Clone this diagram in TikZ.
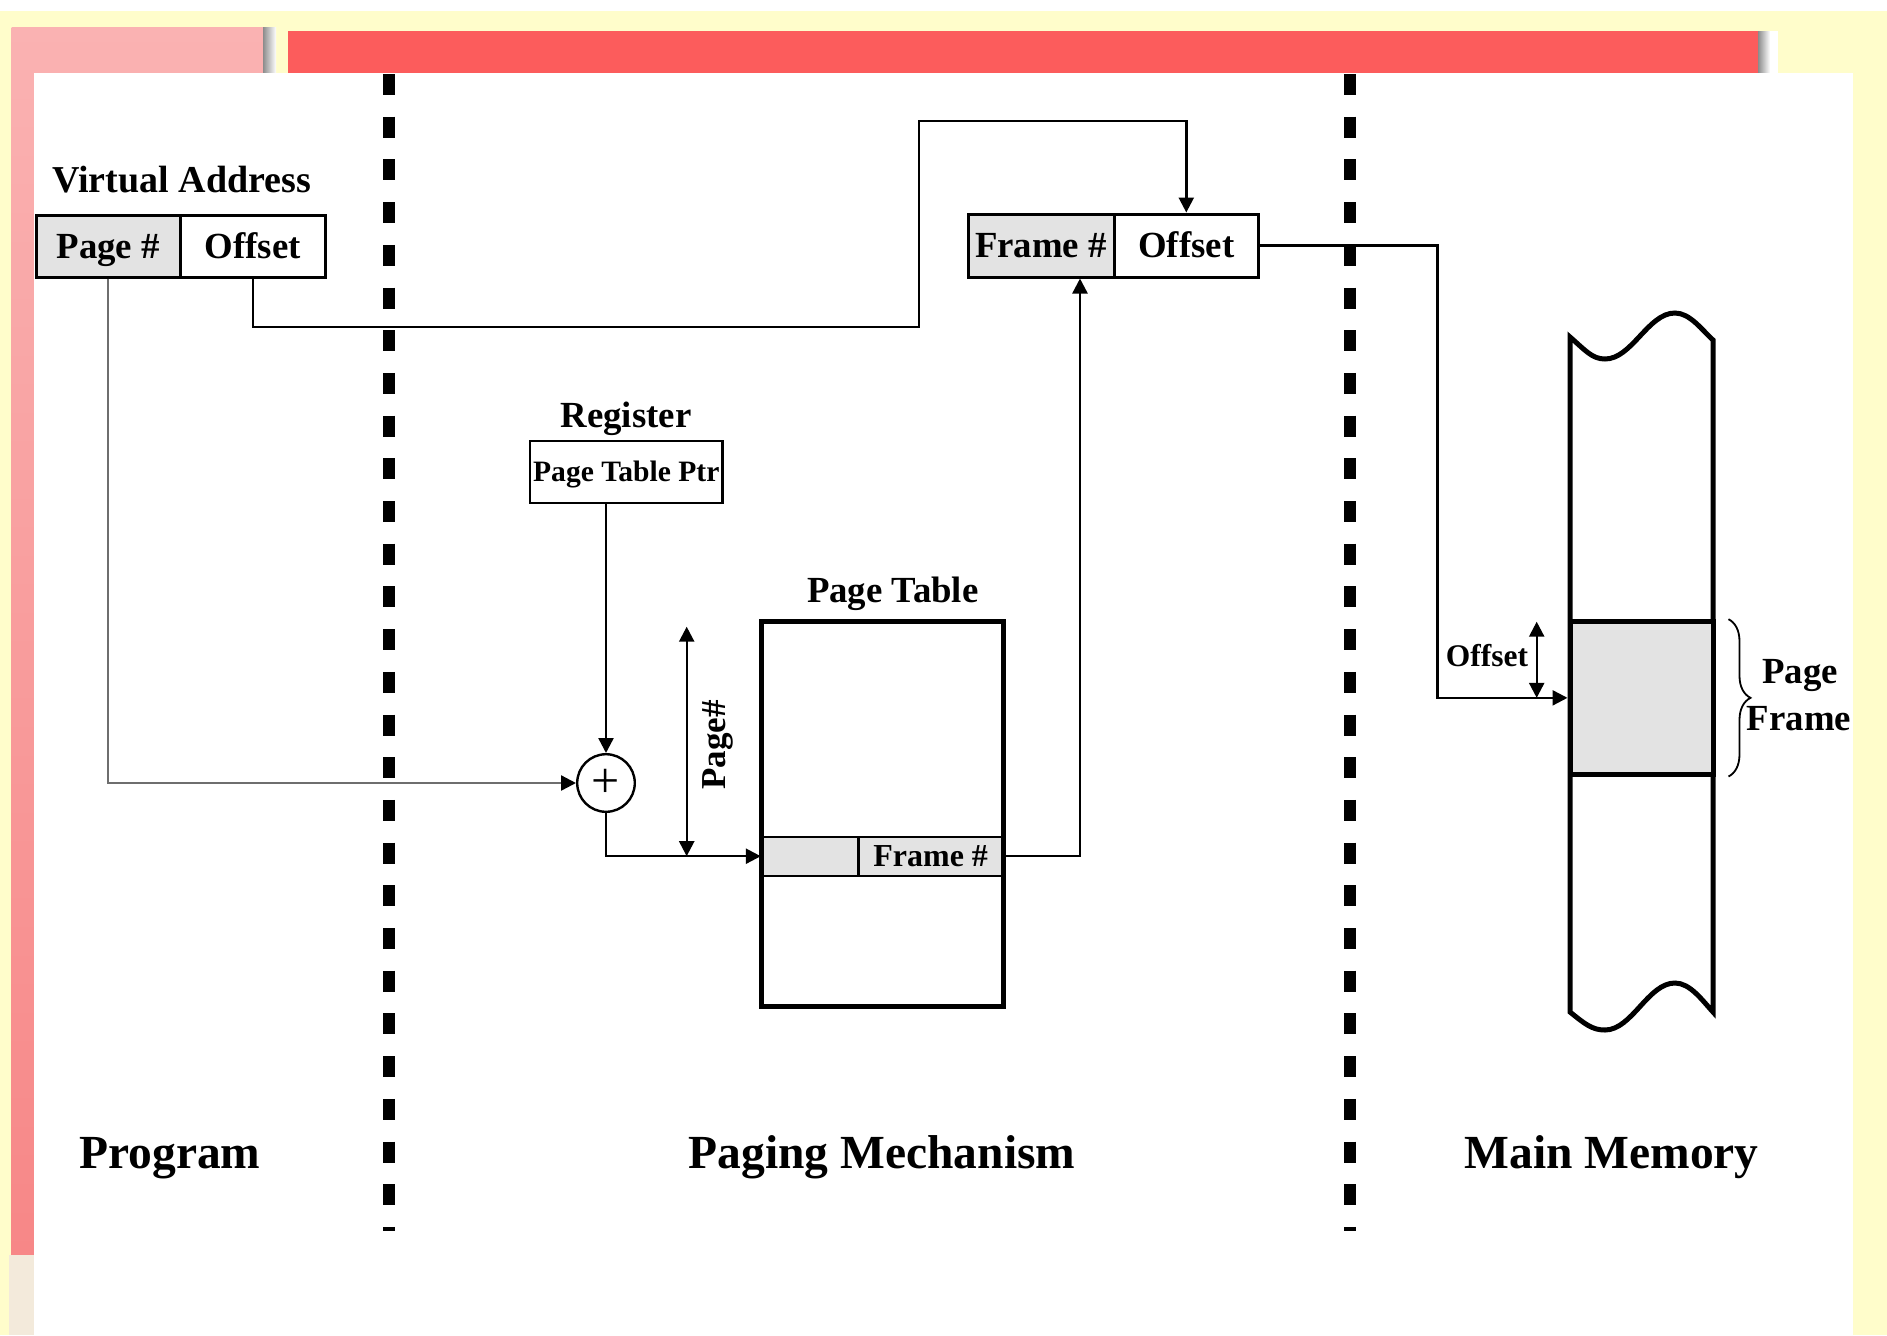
\documentclass[tikz,border=0pt]{standalone}
\usepackage{fontspec}
\setmainfont{Liberation Serif}
\usetikzlibrary{arrows.meta,decorations.pathreplacing,calc}
\definecolor{bgyellow}{HTML}{FFFDCB}
\definecolor{pinktop}{HTML}{FAB2B2}
\definecolor{pinkbot}{HTML}{F78787}
\definecolor{redbar}{HTML}{FC5C5C}
\definecolor{cellgray}{HTML}{E3E3E3}
\definecolor{beige}{HTML}{F3EADB}
\definecolor{wiregray}{HTML}{6E6E6E}
\begin{document}
\begin{tikzpicture}[x=0.5pt,y=-0.5pt,
  >={Triangle[length=7.5pt,width=7.5pt]},
  lbl/.style={inner sep=0pt, font=\bfseries\fontsize{18.4pt}{20pt}\selectfont},
  biglbl/.style={inner sep=0pt, font=\bfseries\fontsize{23.75pt}{26pt}\selectfont},
  cell/.style={draw, line width=1.5pt, inner sep=0pt, text height=12pt, text depth=0pt,
               font=\bfseries\fontsize{18.4pt}{20pt}\selectfont},
  wire/.style={line width=1.2pt},
  sepline/.style={line width=6pt, dash pattern=on 10.5pt off 10.85pt},
  memline/.style={line width=2.5pt}
]
\useasboundingbox (0,0) rectangle (1887,1335);
% ---------- background ----------
\fill[white] (0,0) rectangle (1887,1335);
\fill[bgyellow] (0,11) rectangle (1887,1335);
\shade[top color=pinktop, bottom color=pinkbot] (11.5,27) rectangle (263,1255);
\shade[left color=black!45, right color=white] (263,27) rectangle (276,73);
\fill[redbar] (288,31) rectangle (1758,73);
\shade[left color=black!45, right color=white] (1758,31) rectangle (1770,73);
\fill[white] (1770,31) rectangle (1778,73);
\fill[beige] (9,1255) rectangle (34,1335);
\fill[white] (34,73) rectangle (1853,1335);
% ---------- separators ----------
\draw[sepline] (389,74) -- (389,1231);
\draw[sepline] (1350,74) -- (1350,1231);
% ---------- virtual address ----------
\node[lbl, anchor=base west, font=\bfseries\fontsize{19pt}{20pt}\selectfont] (va) at (52,192) {Virtual Address};
\node[cell, fill=cellgray, minimum width=72.25pt, minimum height=31pt] (vpage) at (108.25,246) {Page \#};
\node[cell, minimum width=72.25pt, minimum height=31pt] (voff) at (252.75,246) {Offset};
% ---------- physical address ----------
\node[cell, fill=cellgray, minimum width=73pt, minimum height=31.5pt] (fnum) at (1041,245.5) {Frame \#};
\node[cell, minimum width=72.3pt, minimum height=31.5pt] (foff) at (1186.3,245.5) {Offset};
% ---------- register ----------
\node[lbl, anchor=base] (reglbl) at (626,427) {Register};
\node[draw, line width=1.2pt, inner sep=0pt, minimum width=96.35pt, minimum height=31.15pt,
      text height=10pt, text depth=0pt, font=\bfseries\fontsize{14.8pt}{16pt}\selectfont]
      (reg) at (626.3,471.85) {Page Table Ptr};
% ---------- adder ----------
\node[draw, circle, line width=1.2pt, minimum size=28.8pt, inner sep=0pt,
      font=\fontsize{25pt}{25pt}\selectfont] (plus) at (606,783) {+};
% ---------- page table ----------
\node[lbl, anchor=base] (ptlbl) at (892.7,602) {Page Table};
\node[draw, line width=1.2pt, fill=cellgray, inner sep=0pt, minimum width=48.15pt, minimum height=19.5pt] (ptl) at (810.15,856.2) {};
\node[draw, line width=1.2pt, fill=cellgray, inner sep=0pt, minimum width=72.35pt, minimum height=19.5pt,
      text height=10pt, text depth=0pt, font=\bfseries\fontsize{16pt}{18pt}\selectfont] (ptr) at (930.65,856.2) {Frame \#};
\node[draw, line width=2.5pt, minimum width=120.65pt, minimum height=192.15pt, inner sep=0pt] (pt) at (882.35,813.85) {};
\node[lbl, rotate=90, font=\bfseries\fontsize{17.5pt}{18pt}\selectfont] (pgn) at (718,745) {Page\#};
\coordinate (pa1) at (686.7,626.7);
\coordinate (pa2) at (686.7,856.2);
\draw[wire, <->] (pa1) -- (pa2);
% ---------- main memory ----------
\draw[memline, fill=white] (1570,1012) -- (1570,337)
  .. controls (1585,350) and (1592,359) .. (1605,359)
  .. controls (1632,359) and (1648,313) .. (1675,313)
  .. controls (1690,313) and (1702,330) .. (1713,340)
  -- (1713,1012)
  .. controls (1702,1000) and (1690,983) .. (1675,983)
  .. controls (1648,983) and (1632,1030) .. (1605,1030)
  .. controls (1592,1030) and (1585,1024) .. (1570,1012) -- cycle;
\node[draw, line width=2.5pt, fill=cellgray, minimum width=71.5pt, minimum height=76.15pt, inner sep=0pt] (pframe) at (1641.5,697.85) {};
\coordinate (oa1) at (1536.7,621.7);
\coordinate (oa2) at (1536.7,697.85);
\draw[wire, <->] (oa1) -- (oa2);
\node[lbl, anchor=base, font=\bfseries\fontsize{15.75pt}{17pt}\selectfont] (offlbl) at (1487,666) {Offset};
\draw[line width=0.9pt, decorate, decoration={brace, amplitude=11pt}]
  ([xshift=6.5pt]pframe.north east) -- ([xshift=6.5pt]pframe.south east);
\node[lbl, anchor=base] (pg) at (1800,683) {Page};
\node[lbl, anchor=base] (fr) at (1799,730) {Frame};
% ---------- region labels ----------
\node[biglbl, anchor=base west] (prog) at (79,1168) {Program};
\node[biglbl, anchor=base] (pm) at (882,1168) {Paging Mechanism};
\node[biglbl, anchor=base] (mm) at (1611.6,1168) {Main Memory};
% ---------- wires ----------
\draw[wire, draw=wiregray, -{Triangle[length=7.5pt,width=7.5pt,color=black]}] (vpage.south) |- (plus.west);
\draw[wire, ->] (reg.south -| plus.north) -- (plus.north);
\draw[wire, ->] (plus.south) |- (ptl.west);
\draw[wire, ->] (ptr.east) -| ([xshift=19.5pt]fnum.south);
\coordinate (o1) at (919,326.7);
\coordinate (o2) at (919,120.7);
\draw[wire, ->] (voff.south) |- (o1) -- (o2) -| (foff.north);
\draw[wire, ->] (foff.east) -| ([xshift=-65pt]pframe.west) -- (pframe.west);
\end{tikzpicture}
\end{document}
